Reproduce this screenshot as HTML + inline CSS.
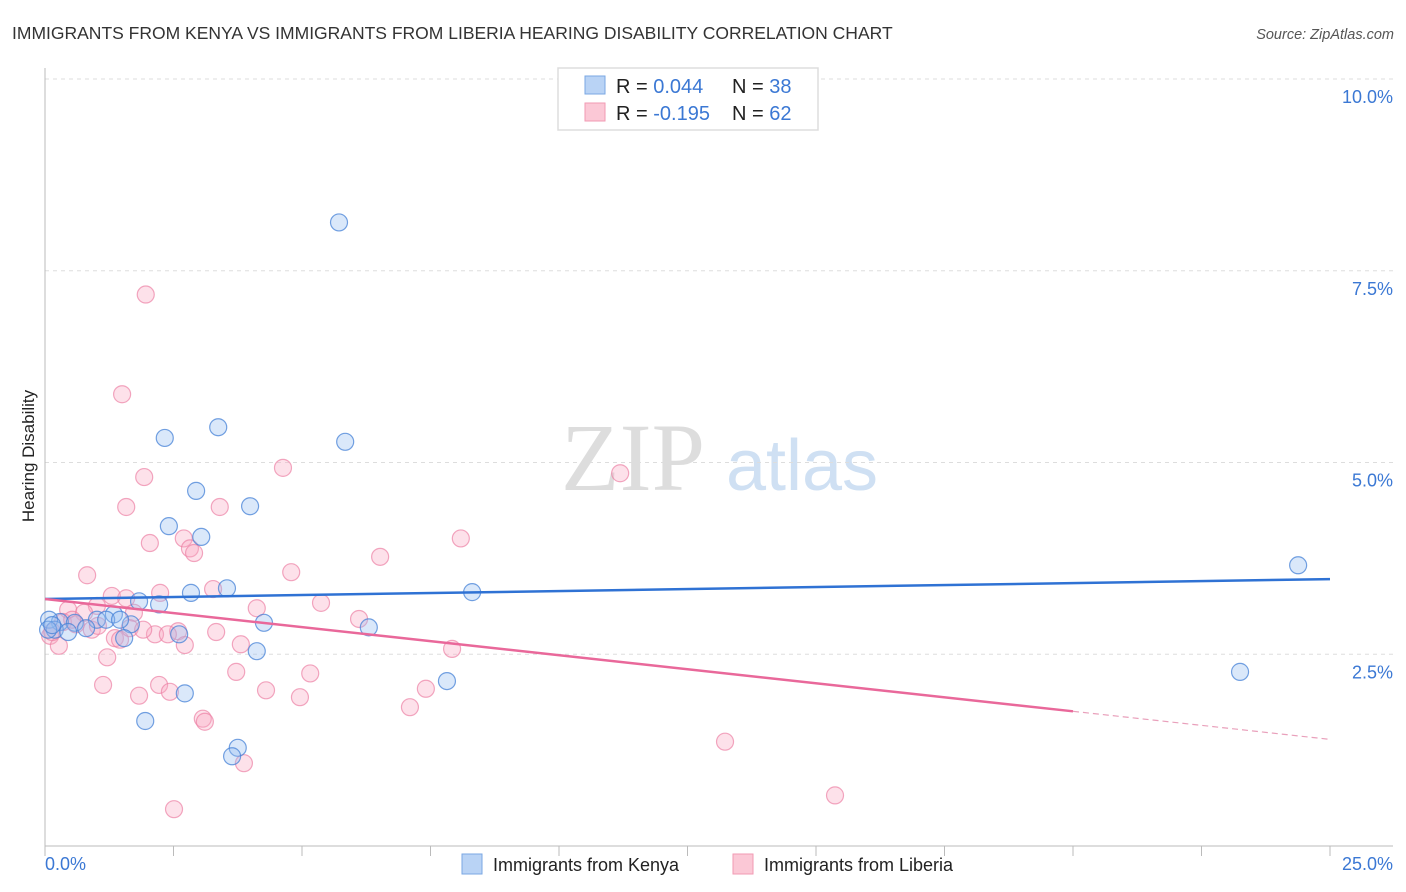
<!DOCTYPE html>
<html><head><meta charset="utf-8"><style>
body{margin:0;background:#fff;font-family:"Liberation Sans",sans-serif;}
svg{display:block}
</style></head><body>
<svg id="chart" width="1406" height="892" xmlns="http://www.w3.org/2000/svg">
<text x="12" y="39" font-size="17.5" fill="#333">IMMIGRANTS FROM KENYA VS IMMIGRANTS FROM LIBERIA HEARING DISABILITY CORRELATION CHART</text>
<text x="1394" y="39" font-size="14.5" fill="#555" font-style="italic" text-anchor="end">Source: ZipAtlas.com</text>
<g>
<text x="633" y="490" font-size="96" font-family="Liberation Serif,serif" fill="#ddd" text-anchor="middle">ZIP</text>
<text x="802" y="490" font-size="72" fill="#cfe0f3" text-anchor="middle">atlas</text>
</g>
<g id="grid"></g>
<g id="axes"></g>
<g id="points"></g>
<g id="trends"></g>
<text transform="translate(34,456) rotate(-90)" font-size="17" fill="#222" text-anchor="middle">Hearing Disability</text>
<g>
<rect x="558" y="68" width="260" height="62" fill="#fff" stroke="#ddd" stroke-width="1.5"/>
<rect x="585" y="76" width="20" height="18" fill="#b9d3f5" stroke="#7aa7e3"/>
<rect x="585" y="103" width="20" height="18" fill="#fbc8d6" stroke="#f19ab3"/>
<text x="616" y="93" font-size="20" fill="#222">R = <tspan fill="#3b78d4">0.044</tspan><tspan x="732">N = </tspan><tspan fill="#3b78d4">38</tspan></text>
<text x="616" y="120" font-size="20" fill="#222">R = <tspan fill="#3b78d4">-0.195</tspan><tspan x="732">N = </tspan><tspan fill="#3b78d4">62</tspan></text>
</g>
<g>
<rect x="462" y="854" width="20" height="20" fill="#b9d3f5" stroke="#7aa7e3"/>
<text x="493" y="871" font-size="18" fill="#222">Immigrants from Kenya</text>
<rect x="733" y="854" width="20" height="20" fill="#fbc8d6" stroke="#f19ab3"/>
<text x="764" y="871" font-size="18" fill="#222">Immigrants from Liberia</text>
</g>
</svg>
<script>
const xTicks=[0,2.5,5,7.5,10,12.5,15,17.5,20,22.5,25];
const yTicks=[2.5,5,7.5,10];
const yTickLabels=["2.5%","5.0%","7.5%","10.0%"];
const xEndLabels=["0.0%","25.0%"];
const kenyaX=[5.72,2.33,3.37,5.84,2.94,3.99,2.41,3.04,24.38,8.31,3.54,2.84,1.83,2.22,1.34,1.01,1.19,1.67,0.29,0.58,0.08,0.19,0.45,0.80,4.26,6.30,1.54,2.61,4.12,23.25,7.82,2.72,1.95,3.75,3.64,0.06,0.14,1.46];
const kenyaY=[8.13,5.32,5.46,5.27,4.63,4.43,4.17,4.03,3.66,3.31,3.36,3.30,3.19,3.15,3.02,2.95,2.95,2.89,2.92,2.91,2.95,2.82,2.79,2.84,2.91,2.85,2.71,2.76,2.54,2.27,2.15,1.99,1.63,1.28,1.17,2.82,2.88,2.95];
const liberiaX=[1.96,1.50,4.63,11.19,1.93,1.58,3.40,2.04,8.09,2.70,2.82,2.90,6.52,0.82,4.79,2.24,3.27,1.30,1.58,5.37,1.01,0.45,4.12,1.73,0.76,6.11,0.35,0.60,2.59,0.91,3.33,2.14,2.39,1.36,1.46,3.81,2.72,0.10,0.27,7.92,1.21,3.72,5.16,2.22,1.13,4.30,7.41,1.83,4.96,2.43,7.10,3.07,3.11,13.23,3.87,15.37,2.51,0.14,1.65,1.03,0.53,1.91];
const liberiaY=[7.19,5.89,4.93,4.86,4.81,4.42,4.42,3.95,4.01,4.01,3.88,3.82,3.77,3.53,3.57,3.30,3.35,3.26,3.23,3.17,3.13,3.08,3.10,3.04,3.04,2.96,2.92,2.89,2.80,2.82,2.79,2.76,2.76,2.71,2.69,2.63,2.62,2.74,2.61,2.57,2.46,2.27,2.25,2.10,2.10,2.03,2.05,1.96,1.94,2.01,1.81,1.66,1.62,1.36,1.08,0.66,0.48,2.79,2.84,2.87,2.95,2.82];
const kenyaTrend=[3.22,3.48];
const liberiaTrend=[3.22,1.39];
const liberiaSolidEnd=20;

const NS="http://www.w3.org/2000/svg";
const X0=45,X1=1330,Y0=846,Y10=79;
function xs(v){return X0+(X1-X0)*v/25;}
function ys(v){return Y0-(Y0-Y10)*v/10;}
function mk(tag,attrs,parent){const e=document.createElementNS(NS,tag);for(const k in attrs)e.setAttribute(k,attrs[k]);document.getElementById(parent).appendChild(e);return e;}

yTicks.forEach((t,i)=>{
  const l=mk('line',{x1:X0,x2:1393,y1:ys(t),y2:ys(t),stroke:'#ddd','stroke-dasharray':'4,4'},'grid');
  
  
  const tx=mk('text',{x:1393,y:ys(t)+24,'font-size':18,fill:'#3b78d4','text-anchor':'end'},'axes');
  tx.textContent=yTickLabels[i];
  
  
});
let a=mk('line',{x1:X0,x2:X0,y1:68,y2:Y0,stroke:'#bbb'},'axes');


a=mk('line',{x1:X0,x2:1393,y1:Y0,y2:Y0,stroke:'#bbb'},'axes');


xTicks.forEach(t=>{
  const l=mk('line',{x1:xs(t),x2:xs(t),y1:Y0,y2:Y0+10,stroke:'#bbb'},'axes');
  
  
});
let t0=mk('text',{x:45,y:870,'font-size':18,fill:'#3b78d4'},'axes');t0.textContent=xEndLabels[0];


let t1=mk('text',{x:1393,y:870,'font-size':18,fill:'#3b78d4','text-anchor':'end'},'axes');t1.textContent=xEndLabels[1];



liberiaX.forEach((v,i)=>{
  const c=mk('circle',{cx:xs(v),cy:ys(liberiaY[i]),r:8.5,fill:'rgba(248,170,195,0.35)',stroke:'rgba(236,130,165,0.7)','stroke-width':1.2},'points');
  
  
});
kenyaX.forEach((v,i)=>{
  const c=mk('circle',{cx:xs(v),cy:ys(kenyaY[i]),r:8.5,fill:'rgba(150,190,240,0.35)',stroke:'rgba(70,130,215,0.75)','stroke-width':1.2},'points');
  
  
});
let tl=mk('line',{x1:xs(0),y1:ys(kenyaTrend[0]),x2:xs(25),y2:ys(kenyaTrend[1]),stroke:'#2f72d4','stroke-width':2.5},'trends');


const ly=v=>liberiaTrend[0]+(liberiaTrend[1]-liberiaTrend[0])*v/25;
tl=mk('line',{x1:xs(0),y1:ys(liberiaTrend[0]),x2:xs(liberiaSolidEnd),y2:ys(ly(liberiaSolidEnd)),stroke:'#e9689a','stroke-width':2.5},'trends');


tl=mk('line',{x1:xs(liberiaSolidEnd),y1:ys(ly(liberiaSolidEnd)),x2:xs(25),y2:ys(liberiaTrend[1]),stroke:'#e9a0bb','stroke-width':1.2,'stroke-dasharray':'6,4'},'trends');


</script>
</body></html>
